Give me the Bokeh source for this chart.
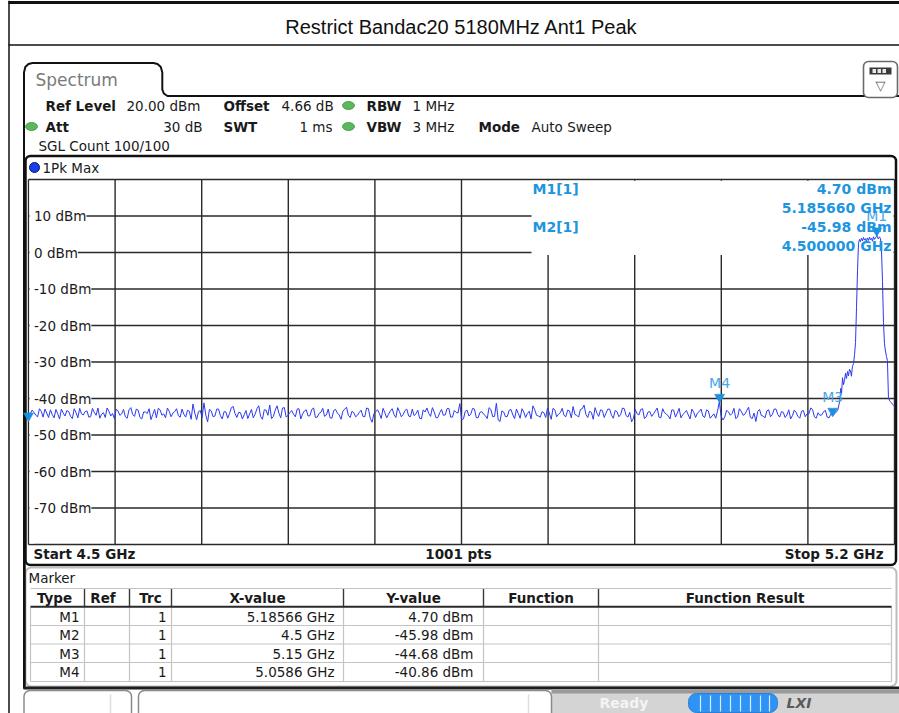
import numpy as np
from bokeh.plotting import figure
from bokeh.models import Range1d
from bokeh.core.properties import value
from bokeh.embed import file_html
from bokeh.resources import INLINE

# ---------------- data ----------------
TITLE = "Restrict Bandac20 5180MHz Ant1 Peak"
START_GHZ = 4.5
STOP_GHZ = 5.2
REF_DBM = 20
BOTTOM_DBM = -80
freq_grid = [4.5, 4.57, 4.64, 4.71, 4.78, 4.85, 4.92, 4.99, 5.06, 5.13, 5.2]
level_grid = [20, 10, 0, -10, -20, -30, -40, -50, -60, -70, -80]
level_label_values = [10, 0, -10, -20, -30, -40, -50, -60, -70]
level_labels = ["10 dBm", "0 dBm", "-10 dBm", "-20 dBm", "-30 dBm",
                "-40 dBm", "-50 dBm", "-60 dBm", "-70 dBm"]

# noise floor from 4.5 GHz to 5.15 GHz (dBm);
# noise_a = even sweep points, noise_b = the points between them
noise_stop_ghz = 5.15
noise_a = [
    -45.98, -43.2, -44.6, -42.8, -45.1, -44.0, -43.1, -45.3, -44.2, -42.9,
    -44.8, -43.6, -45.5, -43.9, -42.7, -44.5, -43.4, -45.0, -43.8, -42.6,
    -44.3, -45.2, -43.5, -44.1, -42.9, -44.6, -43.0, -45.4, -42.5, -44.9,
    -43.2, -45.6, -43.7, -42.8, -44.4, -45.3, -43.1, -44.2, -42.6, -45.0,
    -43.6, -44.7, -42.9, -45.1, -43.5, -41.5, -45.8, -43.3, -41.2, -46.4,
    -43.4, -44.8, -42.9, -45.6, -43.7, -44.1, -42.2, -45.2, -43.9, -44.5,
    -45.5, -43.0, -44.3, -42.0, -45.7, -43.2, -41.8, -44.9, -42.0, -45.3,
    -42.5, -44.6, -43.3, -45.0, -42.8, -44.2, -43.1, -44.7, -42.6, -45.1,
    -43.8, -44.9, -42.9, -45.4, -43.0, -44.5, -43.5, -42.4, -45.2, -43.9,
    -44.6, -43.2, -45.0, -42.8, -46.5, -43.6, -44.1, -42.7, -45.3, -43.4,
    -44.4, -42.5, -45.0, -43.3, -44.8, -42.9, -44.2, -45.4, -43.1, -42.6,
    -44.9, -43.7, -45.2, -43.0, -44.5, -42.7, -45.1, -43.8, -41.4, -45.6,
    -43.2, -44.3, -42.9, -45.3, -43.6, -44.7, -42.5, -45.0, -41.3, -46.3,
    -43.7, -44.9, -43.0, -45.5, -44.1, -42.8, -45.2, -43.5, -42.0, -44.6,
    -45.1, -43.9, -42.6, -45.7, -43.1, -44.3, -42.7, -45.0, -43.4, -42.2,
    -44.6, -43.0, -41.8, -45.2, -43.8, -42.5, -44.9, -43.3, -44.0, -42.9,
    -45.4, -43.6, -44.4, -42.8, -45.1, -46.4, -43.0, -44.5, -42.8, -45.0,
    -43.6, -44.2, -42.6, -45.3, -43.9, -44.7, -43.1, -45.1, -42.7, -44.4,
    -43.3, -45.6, -43.8, -44.0, -42.9, -45.2, -43.4, -44.8, -45.4,
    -40.86,
    -45.9, -43.2, -44.6, -42.7, -45.1, -43.5, -44.3, -42.4, -45.5, -46.3,
    -43.0, -44.8, -43.4, -45.0, -42.9, -44.4, -43.6, -45.2, -43.1, -44.7,
    -43.8, -45.4, -43.3, -44.2, -42.6, -45.0, -43.9, -44.5, -43.2, -45.3,
    -44.68,
]
noise_b = [
    -44.1, -43.8, -45.0, -43.5, -42.9, -45.2, -44.4, -43.0, -45.6, -44.0,
    -43.3, -44.9, -42.8, -45.3, -44.2, -43.6, -45.1, -42.7, -44.6, -45.4,
    -43.9, -42.6, -44.8, -45.5, -43.4, -44.2, -45.0, -43.1, -44.4, -42.9,
    -45.2, -43.7, -44.1, -45.8, -43.0, -42.7, -44.6, -45.3, -43.5, -44.0,
    -42.8, -45.1, -44.3, -43.2, -45.7, -44.0, -43.6, -45.2, -44.5, -43.0,
    -45.0, -42.9, -44.7, -43.6, -45.4, -42.5, -44.1, -43.8, -45.6, -43.3,
    -44.2, -45.3, -42.8, -44.9, -43.1, -44.6, -45.5, -43.2, -44.0, -42.6,
    -45.1, -43.9, -44.3, -42.9, -45.6, -43.4, -44.8, -43.0, -45.2, -44.1,
    -42.7, -44.5, -45.3, -43.3, -44.0, -45.7, -42.9, -44.6, -43.5, -45.0,
    -43.8, -44.9, -42.6, -45.4, -44.2, -43.1, -45.5, -43.9, -44.3, -42.8,
    -45.2, -43.6, -44.4, -42.9, -45.0, -44.7, -43.2, -45.6, -43.7, -44.1,
    -42.5, -45.3, -43.9, -44.6, -42.8, -45.1, -43.3, -44.0, -45.8, -43.5,
    -44.8, -42.7, -45.2, -43.8, -44.3, -45.5, -43.0, -44.9, -45.9, -43.4,
    -45.0, -43.2, -44.5, -42.9, -45.4, -43.7, -44.1, -45.6, -43.1, -44.8,
    -43.6, -45.2, -44.0, -42.7, -45.0, -43.9, -44.6, -43.2, -45.3, -44.4,
    -45.1, -42.8, -44.4, -43.5, -45.7, -44.0, -43.1, -45.2, -42.9, -44.6,
    -43.3, -45.0, -42.6, -44.7, -43.8, -45.4, -44.2, -43.0, -45.5, -43.7,
    -44.9, -43.4, -45.1, -42.8, -44.3, -45.6, -43.2, -44.0, -45.3, -43.9,
    -44.5, -42.9, -45.2, -43.6, -44.8, -43.1, -45.4, -44.2, -43.5, -44.9,
    -45.0, -43.7, -44.1, -45.5, -42.8, -44.6, -43.3, -45.2, -44.0, -43.6,
    -44.7, -45.3, -43.1, -44.4, -42.9, -45.1, -43.8, -44.5, -45.6, -43.2,
    -44.9, -43.5, -45.0, -44.2, -43.0, -45.4, -44.6, -43.7, -45.1, -44.3,
]

# carrier region (GHz, dBm)
signal_ghz = [5.1525, 5.1540, 5.1552, 5.1560, 5.1566, 5.1572, 5.1580, 5.1588, 5.1596, 5.1604,
              5.1612, 5.1620, 5.1628, 5.1636, 5.1644, 5.1652, 5.1660, 5.1669, 5.1677, 5.1685,
              5.1693, 5.1701, 5.1709, 5.1717, 5.1725, 5.1733, 5.1741, 5.1749, 5.1757, 5.1765,
              5.1773, 5.1781, 5.1790, 5.1798, 5.1806, 5.1814, 5.1822, 5.1830, 5.1838, 5.1846,
              5.1854, 5.18566, 5.1862, 5.1870, 5.1878, 5.1887, 5.1895, 5.1903, 5.1911, 5.1919,
              5.1927, 5.1935, 5.1943, 5.1951, 5.1959, 5.1967, 5.1976, 5.1984, 5.1992, 5.2000]
signal_db = [-43.9, -43.3, -41.6, -40.0, -37.2, -38.6, -34.3, -36.2, -35.0, -33.1,
             -34.5, -32.6, -33.8, -32.0, -32.4, -33.9, -31.2, -30.4, -28.0, -24.7,
             -15.0, -5.0, 2.5, 3.6, 3.0, 3.9, 3.2, 4.1, 3.4, 3.8,
             2.9, 4.0, 3.3, 4.2, 3.5, 3.9, 3.1, 4.3, 3.6, 4.0,
             4.4, 4.70, 4.2, 3.7, 4.3, 3.8, 0.5, -8.0, -19.2, -25.0,
             -27.0, -28.5, -29.6, -39.7, -40.5, -40.9, -41.2, -41.6, -41.9, -42.3]

marker_names = ["M1", "M2", "M3", "M4"]
marker_ghz = [5.18566, 4.5, 5.15, 5.0586]
marker_db = [4.70, -45.98, -44.68, -40.86]
marker_ref = ["", "", "", ""]
marker_trc = ["1", "1", "1", "1"]
marker_xval = ["5.18566 GHz", "4.5 GHz", "5.15 GHz", "5.0586 GHz"]
marker_yval = ["4.70 dBm", "-45.98 dBm", "-44.68 dBm", "-40.86 dBm"]
table_cols = ["Type", "Ref", "Trc", "X-value", "Y-value", "Function", "Function Result"]

readout_names = ["M1[1]", "M2[1]"]
readout_values = ["4.70 dBm", "5.185660 GHz", "-45.98 dBm", "4.500000 GHz"]

# ---------------- layout (reference pixel positions) ----------------
W, H = 899, 713
PAGE_X0, PAGE_X1 = 0, W
PAGE_Y0, PAGE_Y1 = 0, H
GRID_L, GRID_R = 28, 894
GRID_T, GRID_B = 179, 544

gpx = (STOP_GHZ - START_GHZ) / (GRID_R - GRID_L)
dpy = (REF_DBM - BOTTOM_DBM) / (GRID_B - GRID_T)
x_start = START_GHZ - (GRID_L - PAGE_X0) * gpx
x_end = STOP_GHZ + (PAGE_X1 - GRID_R) * gpx
y_top = REF_DBM + (GRID_T - PAGE_Y0) * dpy
y_bot = BOTTOM_DBM - (PAGE_Y1 - GRID_B) * dpy

SANS = "DejaVu Sans"
FS = "13.5px"
INK = "#1a1a1a"
TRACE = "#2a3af0"
MARK = "#1c8fe0"
MARK_TXT = "#4aa6e6"

p = figure(width=W, height=H,
           x_range=Range1d(x_start, x_end), y_range=Range1d(y_bot, y_top),
           toolbar_location=None, output_backend="svg", min_border=0,
           x_axis_location=None, y_axis_location=None, outline_line_color=None,
           background_fill_color="white", border_fill_color="white")
p.extra_x_ranges = {"px": Range1d(PAGE_X0, PAGE_X1)}
p.extra_y_ranges = {"px": Range1d(PAGE_Y1, PAGE_Y0)}
p.xgrid.visible = False
p.ygrid.visible = False

PX = dict(x_range_name="px", y_range_name="px")


def txt(x, y, s, size=FS, bold=False, align="left", color=INK, font=SANS, italic=False):
    style = "normal"
    if bold and italic:
        style = "bold italic"
    elif bold:
        style = "bold"
    elif italic:
        style = "italic"
    p.text(x=[x], y=[y], text=[s], text_font=value(font), text_font_size=size,
           text_font_style=style, text_align=align, text_baseline="middle",
           text_color=color, **PX)


def seg(x0, y0, x1, y1, color=INK, width=1.0):
    p.segment(x0=[x0], y0=[y0], x1=[x1], y1=[y1], line_color=color, line_width=width, **PX)


def box(l, r, t, b, fill="white", line=None, width=1.0, radius=0):
    p.quad(left=[l], right=[r], top=[t], bottom=[b], fill_color=fill,
           line_color=line, line_width=width, border_radius=radius, **PX)


# ---- page frame and title ----
seg(8.5, 0, 8.5, 713, "#111111", 1.5)
seg(8, 2, 899, 2, "#111111", 3)
seg(8, 44.5, 899, 44.5, "#111111", 1.5)
txt(461, 26, TITLE, size="20px", font="Liberation Sans", color="#111111", align="center")

# ---- spectrum tab & settings header ----
tab_x = [23.5, 23.5, 24.8, 28, 32, 153, 157, 160.3, 161.8, 161.8, 163.3, 167, 899]
tab_y = [688, 72, 66.5, 63.5, 62.5, 62.5, 63.5, 66.5, 72, 89, 93, 95.5, 95.5]
p.line(tab_x, tab_y, line_color="#111111", line_width=2, **PX)
txt(35, 79, "Spectrum", size="17px", color="#7a7a7a")

# settings icon
box(863, 897, 61, 97, fill="white", line="#6a6a6a", width=1.6, radius=5)
box(869, 891, 67, 74, fill="#3a3a3a", line=None)
for cx in (872, 877, 882):
    box(cx, cx + 3.5, 68.5, 72.5, fill="#e8e8e8", line=None)
txt(880, 85, "\u25bd", size="13px", color="#555555", align="center")

GREEN = "#5cb85c"
p.ellipse(x=[348, 31, 348], y=[105, 126, 126], width=12, height=8,
          fill_color=GREEN, line_color="#3f8f3f", line_width=0.8, **PX)
txt(45, 105, "Ref Level", bold=True)
txt(126, 105, "20.00 dBm")
txt(223, 105, "Offset", bold=True)
txt(281, 105, "4.66 dB")
txt(366, 105, "RBW", bold=True)
txt(412, 105, "1 MHz")
txt(45, 126, "Att", bold=True)
txt(202, 126, "30 dB", align="right")
txt(223, 126, "SWT", bold=True)
txt(332, 126, "1 ms", align="right")
txt(366, 126, "VBW", bold=True)
txt(412, 126, "3 MHz")
txt(478, 126, "Mode", bold=True)
txt(531, 126, "Auto Sweep")
txt(38, 145, "SGL Count 100/100")

# ---- diagram box ----
box(25, 895.5, 155.5, 564.5, fill="white", line="#111111", width=2.5, radius=5)
p.scatter(x=[34], y=[167], size=10, fill_color="#1a3ee8", line_color="#0a1a70",
          line_width=1, **PX)
txt(42, 167, "1Pk Max")

# grid
n_f = len(freq_grid)
n_l = len(level_grid)
p.segment(x0=freq_grid, y0=[BOTTOM_DBM] * n_f, x1=freq_grid, y1=[REF_DBM] * n_f,
          line_color="#2a2a2a", line_width=1.4)
p.segment(x0=[START_GHZ] * n_l, y0=level_grid, x1=[STOP_GHZ] * n_l, y1=level_grid,
          line_color="#2a2a2a", line_width=1.4)

# readout area blanks out upper right grid; label gutter at left
box(531, 893, 180.2, 254.5, fill="white", line=None)
box(29, 34, 180.5, 543, fill="white", line=None)

# level labels
p.text(x=[33.5] * len(level_labels), y=level_label_values, text=level_labels,
       x_range_name="px", text_font=value(SANS), text_font_size=FS,
       text_baseline="middle", text_align="left", text_color=INK,
       background_fill_color="white")

# trace
noise_db = [v for pair in zip(noise_a, noise_b) for v in pair] + [noise_a[-1]]
noise_ghz = np.linspace(START_GHZ, noise_stop_ghz, len(noise_db))
trace_ghz = list(noise_ghz) + signal_ghz
trace_db = noise_db + signal_db
p.line(trace_ghz, trace_db, line_color=TRACE, line_width=1.0)

# markers
tri_lift = 4.5 * dpy
p.scatter(x=marker_ghz, y=[d + tri_lift for d in marker_db], marker="inverted_triangle",
          size=10, fill_color=MARK, line_color=MARK, line_width=0.5)
shown = [i for i in range(len(marker_names)) if marker_ghz[i] > START_GHZ]
p.text(x=[marker_ghz[i] for i in shown], y=[marker_db[i] for i in shown],
       text=[marker_names[i] for i in shown], text_font=value(SANS), text_font_size="14px",
       text_align="center", text_baseline="bottom", y_offset=-11, text_color=MARK_TXT)

# readout
RD = "#1e95e0"
txt(532, 188, readout_names[0], bold=True, color=RD, size="14px")
txt(532, 226.5, readout_names[1], bold=True, color=RD, size="14px")
for yy, s in zip([188, 207, 226.5, 245.5], readout_values):
    txt(891, yy, s, bold=True, color=RD, size="14px", align="right")

# footer
txt(33, 553.5, "Start 4.5 GHz", bold=True)
txt(458, 553.5, "1001 pts", bold=True, align="center")
txt(883, 553.5, "Stop 5.2 GHz", bold=True, align="right")

# ---- marker table ----
box(25, 896, 567, 686, fill="white", line="#bdbdbd", width=2, radius=6)
seg(24, 555, 24, 688, "#111111", 2.5)
txt(28, 577, "Marker")
col_x = [30, 84, 129, 171, 343, 483, 598, 891]
row_lines = [625, 643.5, 662, 681]
row_mid = [616, 634.5, 653, 671.5]
LIGHT = "#c4c4c4"
seg(30, 588, 891, 588, LIGHT, 1.2)
for yy in row_lines:
    seg(30, yy, 891, yy, LIGHT, 1.2)
for cx in col_x:
    seg(cx, 606, cx, 681, LIGHT, 1.2)
for cx in col_x[1:-1]:
    seg(cx, 588.5, cx, 606, "#3a3a3a", 1.4)
seg(30, 606.3, 891, 606.3, "#2a2a2a", 2)
for i, name in enumerate(table_cols):
    cxm = (col_x[i] + col_x[i + 1]) / 2
    if i == 0:
        cxm -= 3
    if i == 1:
        cxm -= 4
    txt(cxm, 597, name, bold=True, align="center")
for r in range(len(marker_names)):
    txt(79, row_mid[r], marker_names[r], align="right")
    txt(166, row_mid[r], marker_trc[r], align="right")
    txt(334, row_mid[r], marker_xval[r], align="right")
    txt(473, row_mid[r], marker_yval[r], align="right")

# ---- status bar ----
seg(23, 687.5, 899, 687.5, "#1e1e1e", 3)
box(551, 899, 689, 713, fill="#d4d4d4", line=None)
box(551, 899, 689, 693, fill="#9a9a9a", line=None)
box(23.5, 131, 690, 720, fill="white", line="#8a8a8a", width=1.5, radius=6)
box(138, 551, 690, 720, fill="white", line="#8a8a8a", width=1.5, radius=6)
seg(110, 694, 110, 713, "#dddddd", 1.5)
seg(528, 694, 528, 713, "#dddddd", 1.5)
txt(599, 702, "Ready", bold=True, color="#f4f4f4", size="14px")
box(688, 777, 693, 712, fill="#2f93f5", line="#2a7fd6", width=1, radius=8)
for sx in [700, 710, 720, 730, 740, 750, 760, 769]:
    seg(sx, 695, sx, 711, "#d6ecff", 1.2)
txt(786, 702, "LXI", bold=True, italic=True, color="#5a5a5a", size="14px")

open("out.html", "w").write(file_html(p, INLINE))
